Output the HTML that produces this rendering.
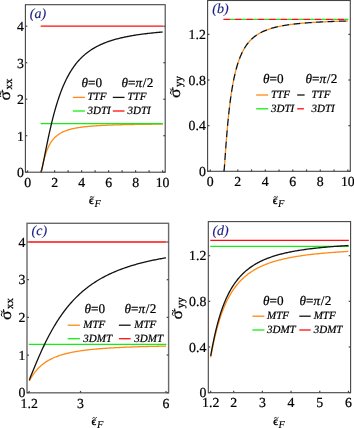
<!DOCTYPE html>
<html><head><meta charset="utf-8"><style>
html,body{margin:0;padding:0;background:#fff;}
svg{display:block;font-family:"Liberation Serif",serif;text-rendering:geometricPrecision;will-change:transform;}
text{stroke:#000;stroke-width:0.22px;}
text.nv{stroke:#1a1f80;stroke-width:0.15px;}
</style></head><body>
<svg width="354" height="428" viewBox="0 0 354 428">
<rect width="354" height="428" fill="#fff"/>
<path d="M41.10,172.20 L41.13,172.14 L41.18,171.97 L41.25,171.71 L41.33,171.36 L41.43,170.93 L41.55,170.43 L41.67,169.86 L41.81,169.22 L41.96,168.54 L42.11,167.80 L42.28,167.02 L42.46,166.21 L42.64,165.37 L42.84,164.50 L43.04,163.61 L43.25,162.71 L43.47,161.79 L43.70,160.87 L43.93,159.94 L44.18,159.02 L44.43,158.09 L44.68,157.18 L44.95,156.27 L45.22,155.36 L45.50,154.48 L45.78,153.60 L46.07,152.74 L46.37,151.89 L46.68,151.06 L46.99,150.25 L47.30,149.46 L47.63,148.68 L47.96,147.92 L48.29,147.19 L48.63,146.47 L48.98,145.77 L49.33,145.09 L49.69,144.43 L50.06,143.79 L50.43,143.17 L50.80,142.56 L51.18,141.98 L51.57,141.41 L51.96,140.86 L52.36,140.33 L52.76,139.82 L53.17,139.32 L53.59,138.84 L54.00,138.37 L54.43,137.92 L54.86,137.48 L55.29,137.06 L55.73,136.65 L56.17,136.26 L56.62,135.88 L57.08,135.51 L57.54,135.15 L58.00,134.81 L58.47,134.48 L58.94,134.16 L59.42,133.85 L59.90,133.55 L60.39,133.26 L60.88,132.98 L61.38,132.70 L61.88,132.44 L62.39,132.19 L62.90,131.95 L63.41,131.71 L63.93,131.48 L64.46,131.26 L64.99,131.05 L65.52,130.84 L66.06,130.64 L66.60,130.44 L67.14,130.26 L67.69,130.08 L68.25,129.90 L68.81,129.73 L69.37,129.57 L69.94,129.41 L70.51,129.25 L71.09,129.11 L71.67,128.96 L72.25,128.82 L72.84,128.69 L73.43,128.56 L74.03,128.43 L74.63,128.30 L75.23,128.19 L75.84,128.07 L76.46,127.96 L77.07,127.85 L77.69,127.74 L78.32,127.64 L78.95,127.54 L79.58,127.45 L80.22,127.35 L80.86,127.26 L81.50,127.17 L82.15,127.09 L82.80,127.00 L83.46,126.92 L84.12,126.85 L84.78,126.77 L85.45,126.70 L86.12,126.62 L86.80,126.55 L87.48,126.49 L88.16,126.42 L88.85,126.36 L89.54,126.29 L90.23,126.23 L90.93,126.18 L91.63,126.12 L92.33,126.06 L93.04,126.01 L93.75,125.96 L94.47,125.90 L95.19,125.85 L95.91,125.81 L96.64,125.76 L97.37,125.71 L98.10,125.67 L98.84,125.62 L99.58,125.58 L100.32,125.54 L101.07,125.50 L101.82,125.46 L102.58,125.42 L103.34,125.38 L104.10,125.35 L104.86,125.31 L105.63,125.28 L106.40,125.24 L107.18,125.21 L107.96,125.18 L108.74,125.15 L109.53,125.11 L110.32,125.08 L111.11,125.06 L111.91,125.03 L112.71,125.00 L113.51,124.97 L114.32,124.95 L115.12,124.92 L115.94,124.89 L116.75,124.87 L117.57,124.85 L118.40,124.82 L119.22,124.80 L120.05,124.78 L120.88,124.75 L121.72,124.73 L122.56,124.71 L123.40,124.69 L124.25,124.67 L125.10,124.65 L125.95,124.63 L126.80,124.61 L127.66,124.59 L128.52,124.58 L129.39,124.56 L130.26,124.54 L131.13,124.52 L132.00,124.51 L132.88,124.49 L133.76,124.48 L134.65,124.46 L135.53,124.45 L136.42,124.43 L137.32,124.42 L138.21,124.40 L139.11,124.39 L140.02,124.37 L140.92,124.36 L141.83,124.35 L142.74,124.34 L143.66,124.32 L144.58,124.31 L145.50,124.30 L146.42,124.29 L147.35,124.27 L148.28,124.26 L149.22,124.25 L150.15,124.24 L151.09,124.23 L152.03,124.22 L152.98,124.21 L153.93,124.20 L154.88,124.19 L155.83,124.18 L156.79,124.17 L157.75,124.16 L158.72,124.15 L159.68,124.14 L160.65,124.13 L161.62,124.13 L162.60,124.12" fill="none" stroke="#ff8a14" stroke-width="1.3"/>
<line x1="40.70" y1="123.53" x2="163.00" y2="123.53" stroke="#12ee12" stroke-width="1.3"/>
<path d="M41.10,172.20 L41.13,172.15 L41.18,172.00 L41.25,171.77 L41.33,171.47 L41.43,171.09 L41.55,170.64 L41.67,170.13 L41.81,169.54 L41.96,168.89 L42.11,168.19 L42.28,167.42 L42.46,166.59 L42.64,165.71 L42.84,164.77 L43.04,163.78 L43.25,162.74 L43.47,161.65 L43.70,160.52 L43.93,159.34 L44.18,158.13 L44.43,156.87 L44.68,155.57 L44.95,154.24 L45.22,152.87 L45.50,151.48 L45.78,150.05 L46.07,148.60 L46.37,147.12 L46.68,145.62 L46.99,144.10 L47.30,142.56 L47.63,141.00 L47.96,139.43 L48.29,137.84 L48.63,136.24 L48.98,134.64 L49.33,133.02 L49.69,131.41 L50.06,129.78 L50.43,128.16 L50.80,126.53 L51.18,124.91 L51.57,123.29 L51.96,121.67 L52.36,120.06 L52.76,118.45 L53.17,116.86 L53.59,115.27 L54.00,113.69 L54.43,112.13 L54.86,110.58 L55.29,109.04 L55.73,107.51 L56.17,106.00 L56.62,104.51 L57.08,103.03 L57.54,101.58 L58.00,100.13 L58.47,98.71 L58.94,97.31 L59.42,95.92 L59.90,94.56 L60.39,93.22 L60.88,91.89 L61.38,90.59 L61.88,89.31 L62.39,88.05 L62.90,86.81 L63.41,85.59 L63.93,84.39 L64.46,83.22 L64.99,82.06 L65.52,80.93 L66.06,79.81 L66.60,78.72 L67.14,77.65 L67.69,76.60 L68.25,75.57 L68.81,74.56 L69.37,73.57 L69.94,72.60 L70.51,71.65 L71.09,70.72 L71.67,69.81 L72.25,68.92 L72.84,68.05 L73.43,67.19 L74.03,66.36 L74.63,65.54 L75.23,64.74 L75.84,63.95 L76.46,63.18 L77.07,62.43 L77.69,61.70 L78.32,60.98 L78.95,60.28 L79.58,59.59 L80.22,58.92 L80.86,58.27 L81.50,57.62 L82.15,57.00 L82.80,56.38 L83.46,55.78 L84.12,55.20 L84.78,54.62 L85.45,54.06 L86.12,53.51 L86.80,52.98 L87.48,52.45 L88.16,51.94 L88.85,51.44 L89.54,50.95 L90.23,50.47 L90.93,50.01 L91.63,49.55 L92.33,49.10 L93.04,48.66 L93.75,48.24 L94.47,47.82 L95.19,47.41 L95.91,47.01 L96.64,46.62 L97.37,46.24 L98.10,45.87 L98.84,45.50 L99.58,45.14 L100.32,44.79 L101.07,44.45 L101.82,44.12 L102.58,43.79 L103.34,43.47 L104.10,43.16 L104.86,42.85 L105.63,42.56 L106.40,42.26 L107.18,41.98 L107.96,41.70 L108.74,41.42 L109.53,41.15 L110.32,40.89 L111.11,40.63 L111.91,40.38 L112.71,40.14 L113.51,39.90 L114.32,39.66 L115.12,39.43 L115.94,39.20 L116.75,38.98 L117.57,38.77 L118.40,38.55 L119.22,38.35 L120.05,38.14 L120.88,37.94 L121.72,37.75 L122.56,37.56 L123.40,37.37 L124.25,37.19 L125.10,37.01 L125.95,36.83 L126.80,36.66 L127.66,36.49 L128.52,36.32 L129.39,36.16 L130.26,36.00 L131.13,35.85 L132.00,35.69 L132.88,35.54 L133.76,35.40 L134.65,35.25 L135.53,35.11 L136.42,34.97 L137.32,34.84 L138.21,34.70 L139.11,34.57 L140.02,34.45 L140.92,34.32 L141.83,34.20 L142.74,34.08 L143.66,33.96 L144.58,33.84 L145.50,33.73 L146.42,33.61 L147.35,33.50 L148.28,33.40 L149.22,33.29 L150.15,33.19 L151.09,33.09 L152.03,32.99 L152.98,32.89 L153.93,32.79 L154.88,32.70 L155.83,32.60 L156.79,32.51 L157.75,32.42 L158.72,32.33 L159.68,32.25 L160.65,32.16 L161.62,32.08 L162.60,32.00" fill="none" stroke="#111" stroke-width="1.3"/>
<line x1="40.70" y1="26.20" x2="163.00" y2="26.20" stroke="#ff0d0d" stroke-width="1.3"/>
<rect x="25.4" y="4.7" width="139.79999999999998" height="167.5" fill="none" stroke="#444" stroke-width="1.1"/>
<line x1="27.60" y1="172.2" x2="27.60" y2="170.29999999999998" stroke="#444" stroke-width="1.2"/>
<text x="27.60" y="186.60" font-size="13.8" text-anchor="middle" fill="#000">0</text>
<line x1="54.60" y1="172.2" x2="54.60" y2="170.29999999999998" stroke="#444" stroke-width="1.2"/>
<text x="54.60" y="186.60" font-size="13.8" text-anchor="middle" fill="#000">2</text>
<line x1="81.60" y1="172.2" x2="81.60" y2="170.29999999999998" stroke="#444" stroke-width="1.2"/>
<text x="81.60" y="186.60" font-size="13.8" text-anchor="middle" fill="#000">4</text>
<line x1="108.60" y1="172.2" x2="108.60" y2="170.29999999999998" stroke="#444" stroke-width="1.2"/>
<text x="108.60" y="186.60" font-size="13.8" text-anchor="middle" fill="#000">6</text>
<line x1="135.60" y1="172.2" x2="135.60" y2="170.29999999999998" stroke="#444" stroke-width="1.2"/>
<text x="135.60" y="186.60" font-size="13.8" text-anchor="middle" fill="#000">8</text>
<line x1="162.60" y1="172.2" x2="162.60" y2="170.29999999999998" stroke="#444" stroke-width="1.2"/>
<text x="162.60" y="186.60" font-size="13.8" text-anchor="middle" fill="#000">10</text>
<line x1="41.10" y1="172.2" x2="41.10" y2="170.29999999999998" stroke="#444" stroke-width="1.2"/>
<line x1="68.10" y1="172.2" x2="68.10" y2="170.29999999999998" stroke="#444" stroke-width="1.2"/>
<line x1="95.10" y1="172.2" x2="95.10" y2="170.29999999999998" stroke="#444" stroke-width="1.2"/>
<line x1="122.10" y1="172.2" x2="122.10" y2="170.29999999999998" stroke="#444" stroke-width="1.2"/>
<line x1="149.10" y1="172.2" x2="149.10" y2="170.29999999999998" stroke="#444" stroke-width="1.2"/>
<line x1="25.4" y1="172.20" x2="27.299999999999997" y2="172.20" stroke="#444" stroke-width="1.2"/>
<line x1="165.2" y1="172.20" x2="163.29999999999998" y2="172.20" stroke="#444" stroke-width="1.2"/>
<text x="23.80" y="177.00" font-size="13.8" text-anchor="end" fill="#000">0</text>
<line x1="25.4" y1="135.70" x2="27.299999999999997" y2="135.70" stroke="#444" stroke-width="1.2"/>
<line x1="165.2" y1="135.70" x2="163.29999999999998" y2="135.70" stroke="#444" stroke-width="1.2"/>
<text x="23.80" y="140.50" font-size="13.8" text-anchor="end" fill="#000">1</text>
<line x1="25.4" y1="99.20" x2="27.299999999999997" y2="99.20" stroke="#444" stroke-width="1.2"/>
<line x1="165.2" y1="99.20" x2="163.29999999999998" y2="99.20" stroke="#444" stroke-width="1.2"/>
<text x="23.80" y="104.00" font-size="13.8" text-anchor="end" fill="#000">2</text>
<line x1="25.4" y1="62.70" x2="27.299999999999997" y2="62.70" stroke="#444" stroke-width="1.2"/>
<line x1="165.2" y1="62.70" x2="163.29999999999998" y2="62.70" stroke="#444" stroke-width="1.2"/>
<text x="23.80" y="67.50" font-size="13.8" text-anchor="end" fill="#000">3</text>
<line x1="25.4" y1="26.20" x2="27.299999999999997" y2="26.20" stroke="#444" stroke-width="1.2"/>
<line x1="165.2" y1="26.20" x2="163.29999999999998" y2="26.20" stroke="#444" stroke-width="1.2"/>
<text x="23.80" y="31.00" font-size="13.8" text-anchor="end" fill="#000">4</text>
<text x="29.80" y="17.90" font-size="14" text-anchor="start" font-style="italic" fill="#1a1f80" class="nv">(a)</text>
<text x="81.50" y="86.50" font-size="13.2"><tspan font-style="italic">θ</tspan>=0</text>
<text x="121.50" y="86.50" font-size="13.2"><tspan font-style="italic">θ</tspan>=<tspan font-style="italic">π</tspan><tspan dx="0.7">/</tspan><tspan dx="0.4">2</tspan></text>
<line x1="72.80" y1="97.40" x2="84.90" y2="97.40" stroke="#ff8a14" stroke-width="1.3"/>
<line x1="112.80" y1="97.40" x2="124.50" y2="97.40" stroke="#111" stroke-width="1.3"/>
<text x="87.50" y="100.20" font-size="11" text-anchor="start" font-style="italic" fill="#000">TTF</text>
<text x="127.50" y="100.20" font-size="11" text-anchor="start" font-style="italic" fill="#000">TTF</text>
<line x1="72.80" y1="111.00" x2="84.90" y2="111.00" stroke="#12ee12" stroke-width="1.3"/>
<line x1="112.80" y1="111.00" x2="124.50" y2="111.00" stroke="#ff0d0d" stroke-width="1.3"/>
<text x="87.50" y="113.80" font-size="11" text-anchor="start" font-style="italic" fill="#000">3DTI</text>
<text x="127.50" y="113.80" font-size="11" text-anchor="start" font-style="italic" fill="#000">3DTI</text>
<g transform="translate(9.80,100.60) rotate(-90)"><text x="0" y="0" font-size="16" transform="scale(1.1,1)">σ</text><line x1="8.3" y1="-7.5" x2="10.9" y2="-7.5" stroke="#000" stroke-width="1"/><path d="M3.6,-8.8 q1.45,-1.9 2.9,-0.6 t2.9,-0.6" fill="none" stroke="#000" stroke-width="0.95"/><text x="11.2" y="1.9" font-size="11">xx</text></g>
<g transform="translate(89.00,203.90)"><text x="0" y="0" font-size="11.5" style="stroke-width:0.4px">ϵ</text><path d="M0.9,-6.3 q1.1,-1.7 2.2,-0.6 t2.2,-0.6" fill="none" stroke="#000" stroke-width="0.85"/><text x="5.4" y="3.1" font-size="10.5" font-style="italic" style="stroke-width:0.08px">F</text></g>
<line x1="223.4" y1="19.4" x2="348.3" y2="19.4" stroke="#12ee12" stroke-width="1.3" stroke-dasharray="4.5 6.9" stroke-dashoffset="-6.9"/>
<line x1="223.4" y1="19.4" x2="348.3" y2="19.4" stroke="#ff0d0d" stroke-width="1.3" stroke-dasharray="6.9 4.5"/>
<path d="M224.05,171.30 L224.08,171.11 L224.13,170.59 L224.20,169.78 L224.29,168.69 L224.39,167.34 L224.51,165.76 L224.63,163.97 L224.77,161.99 L224.92,159.84 L225.08,157.55 L225.25,155.12 L225.43,152.58 L225.62,149.94 L225.82,147.22 L226.03,144.45 L226.24,141.62 L226.47,138.76 L226.70,135.88 L226.94,132.99 L227.18,130.09 L227.44,127.20 L227.70,124.33 L227.97,121.49 L228.24,118.67 L228.53,115.89 L228.82,113.15 L229.11,110.46 L229.42,107.81 L229.73,105.22 L230.04,102.68 L230.37,100.20 L230.70,97.77 L231.03,95.41 L231.37,93.10 L231.72,90.86 L232.08,88.68 L232.43,86.55 L232.80,84.49 L233.17,82.48 L233.55,80.54 L233.93,78.65 L234.32,76.83 L234.71,75.05 L235.11,73.34 L235.52,71.67 L235.93,70.07 L236.35,68.51 L236.77,67.00 L237.19,65.54 L237.62,64.13 L238.06,62.77 L238.50,61.45 L238.95,60.18 L239.40,58.95 L239.86,57.76 L240.32,56.60 L240.79,55.49 L241.26,54.42 L241.74,53.38 L242.22,52.37 L242.71,51.40 L243.20,50.47 L243.70,49.56 L244.20,48.68 L244.71,47.84 L245.22,47.02 L245.73,46.23 L246.25,45.46 L246.78,44.72 L247.31,44.01 L247.84,43.32 L248.38,42.65 L248.92,42.00 L249.47,41.38 L250.02,40.77 L250.58,40.19 L251.14,39.62 L251.70,39.07 L252.27,38.54 L252.85,38.03 L253.42,37.53 L254.01,37.05 L254.59,36.59 L255.18,36.13 L255.78,35.70 L256.38,35.27 L256.98,34.86 L257.59,34.47 L258.20,34.08 L258.82,33.71 L259.44,33.35 L260.06,33.00 L260.69,32.66 L261.32,32.33 L261.96,32.01 L262.60,31.70 L263.24,31.40 L263.89,31.10 L264.54,30.82 L265.20,30.54 L265.86,30.28 L266.53,30.02 L267.19,29.77 L267.87,29.52 L268.54,29.28 L269.22,29.05 L269.91,28.83 L270.59,28.61 L271.28,28.40 L271.98,28.19 L272.68,27.99 L273.38,27.80 L274.09,27.61 L274.80,27.43 L275.51,27.25 L276.23,27.07 L276.95,26.90 L277.68,26.74 L278.41,26.58 L279.14,26.42 L279.88,26.27 L280.62,26.12 L281.36,25.98 L282.11,25.84 L282.86,25.70 L283.61,25.57 L284.37,25.44 L285.13,25.31 L285.90,25.19 L286.67,25.07 L287.44,24.95 L288.22,24.83 L288.99,24.72 L289.78,24.61 L290.56,24.51 L291.35,24.41 L292.15,24.30 L292.94,24.21 L293.75,24.11 L294.55,24.02 L295.36,23.92 L296.17,23.84 L296.98,23.75 L297.80,23.66 L298.62,23.58 L299.45,23.50 L300.27,23.42 L301.10,23.34 L301.94,23.27 L302.78,23.19 L303.62,23.12 L304.46,23.05 L305.31,22.98 L306.16,22.91 L307.02,22.85 L307.88,22.78 L308.74,22.72 L309.60,22.66 L310.47,22.60 L311.34,22.54 L312.22,22.48 L313.09,22.43 L313.98,22.37 L314.86,22.32 L315.75,22.27 L316.64,22.21 L317.53,22.16 L318.43,22.11 L319.33,22.07 L320.23,22.02 L321.14,21.97 L322.05,21.93 L322.96,21.88 L323.88,21.84 L324.80,21.80 L325.72,21.75 L326.65,21.71 L327.58,21.67 L328.51,21.63 L329.44,21.59 L330.38,21.56 L331.32,21.52 L332.27,21.48 L333.22,21.45 L334.17,21.41 L335.12,21.38 L336.08,21.35 L337.04,21.31 L338.00,21.28 L338.97,21.25 L339.94,21.22 L340.91,21.19 L341.88,21.16 L342.86,21.13 L343.84,21.10 L344.83,21.07 L345.82,21.04 L346.81,21.02 L347.80,20.99" fill="none" stroke="#ff8a14" stroke-width="1.3" stroke-dasharray="4.4 7" stroke-dashoffset="-7"/>
<path d="M224.05,171.30 L224.08,171.11 L224.13,170.59 L224.20,169.78 L224.29,168.69 L224.39,167.34 L224.51,165.76 L224.63,163.97 L224.77,161.99 L224.92,159.84 L225.08,157.55 L225.25,155.12 L225.43,152.58 L225.62,149.94 L225.82,147.22 L226.03,144.45 L226.24,141.62 L226.47,138.76 L226.70,135.88 L226.94,132.99 L227.18,130.09 L227.44,127.20 L227.70,124.33 L227.97,121.49 L228.24,118.67 L228.53,115.89 L228.82,113.15 L229.11,110.46 L229.42,107.81 L229.73,105.22 L230.04,102.68 L230.37,100.20 L230.70,97.77 L231.03,95.41 L231.37,93.10 L231.72,90.86 L232.08,88.68 L232.43,86.55 L232.80,84.49 L233.17,82.48 L233.55,80.54 L233.93,78.65 L234.32,76.83 L234.71,75.05 L235.11,73.34 L235.52,71.67 L235.93,70.07 L236.35,68.51 L236.77,67.00 L237.19,65.54 L237.62,64.13 L238.06,62.77 L238.50,61.45 L238.95,60.18 L239.40,58.95 L239.86,57.76 L240.32,56.60 L240.79,55.49 L241.26,54.42 L241.74,53.38 L242.22,52.37 L242.71,51.40 L243.20,50.47 L243.70,49.56 L244.20,48.68 L244.71,47.84 L245.22,47.02 L245.73,46.23 L246.25,45.46 L246.78,44.72 L247.31,44.01 L247.84,43.32 L248.38,42.65 L248.92,42.00 L249.47,41.38 L250.02,40.77 L250.58,40.19 L251.14,39.62 L251.70,39.07 L252.27,38.54 L252.85,38.03 L253.42,37.53 L254.01,37.05 L254.59,36.59 L255.18,36.13 L255.78,35.70 L256.38,35.27 L256.98,34.86 L257.59,34.47 L258.20,34.08 L258.82,33.71 L259.44,33.35 L260.06,33.00 L260.69,32.66 L261.32,32.33 L261.96,32.01 L262.60,31.70 L263.24,31.40 L263.89,31.10 L264.54,30.82 L265.20,30.54 L265.86,30.28 L266.53,30.02 L267.19,29.77 L267.87,29.52 L268.54,29.28 L269.22,29.05 L269.91,28.83 L270.59,28.61 L271.28,28.40 L271.98,28.19 L272.68,27.99 L273.38,27.80 L274.09,27.61 L274.80,27.43 L275.51,27.25 L276.23,27.07 L276.95,26.90 L277.68,26.74 L278.41,26.58 L279.14,26.42 L279.88,26.27 L280.62,26.12 L281.36,25.98 L282.11,25.84 L282.86,25.70 L283.61,25.57 L284.37,25.44 L285.13,25.31 L285.90,25.19 L286.67,25.07 L287.44,24.95 L288.22,24.83 L288.99,24.72 L289.78,24.61 L290.56,24.51 L291.35,24.41 L292.15,24.30 L292.94,24.21 L293.75,24.11 L294.55,24.02 L295.36,23.92 L296.17,23.84 L296.98,23.75 L297.80,23.66 L298.62,23.58 L299.45,23.50 L300.27,23.42 L301.10,23.34 L301.94,23.27 L302.78,23.19 L303.62,23.12 L304.46,23.05 L305.31,22.98 L306.16,22.91 L307.02,22.85 L307.88,22.78 L308.74,22.72 L309.60,22.66 L310.47,22.60 L311.34,22.54 L312.22,22.48 L313.09,22.43 L313.98,22.37 L314.86,22.32 L315.75,22.27 L316.64,22.21 L317.53,22.16 L318.43,22.11 L319.33,22.07 L320.23,22.02 L321.14,21.97 L322.05,21.93 L322.96,21.88 L323.88,21.84 L324.80,21.80 L325.72,21.75 L326.65,21.71 L327.58,21.67 L328.51,21.63 L329.44,21.59 L330.38,21.56 L331.32,21.52 L332.27,21.48 L333.22,21.45 L334.17,21.41 L335.12,21.38 L336.08,21.35 L337.04,21.31 L338.00,21.28 L338.97,21.25 L339.94,21.22 L340.91,21.19 L341.88,21.16 L342.86,21.13 L343.84,21.10 L344.83,21.07 L345.82,21.04 L346.81,21.02 L347.80,20.99" fill="none" stroke="#111" stroke-width="1.3" stroke-dasharray="7 4.4"/>
<rect x="207.6" y="0.5" width="142.70000000000002" height="170.8" fill="none" stroke="#444" stroke-width="1.1"/>
<line x1="210.30" y1="171.3" x2="210.30" y2="169.4" stroke="#444" stroke-width="1.2"/>
<text x="210.30" y="185.80" font-size="13.8" text-anchor="middle" fill="#000">0</text>
<line x1="237.80" y1="171.3" x2="237.80" y2="169.4" stroke="#444" stroke-width="1.2"/>
<text x="237.80" y="185.80" font-size="13.8" text-anchor="middle" fill="#000">2</text>
<line x1="265.30" y1="171.3" x2="265.30" y2="169.4" stroke="#444" stroke-width="1.2"/>
<text x="265.30" y="185.80" font-size="13.8" text-anchor="middle" fill="#000">4</text>
<line x1="292.80" y1="171.3" x2="292.80" y2="169.4" stroke="#444" stroke-width="1.2"/>
<text x="292.80" y="185.80" font-size="13.8" text-anchor="middle" fill="#000">6</text>
<line x1="320.30" y1="171.3" x2="320.30" y2="169.4" stroke="#444" stroke-width="1.2"/>
<text x="320.30" y="185.80" font-size="13.8" text-anchor="middle" fill="#000">8</text>
<line x1="347.80" y1="171.3" x2="347.80" y2="169.4" stroke="#444" stroke-width="1.2"/>
<text x="347.80" y="185.80" font-size="13.8" text-anchor="middle" fill="#000">10</text>
<line x1="224.05" y1="171.3" x2="224.05" y2="169.4" stroke="#444" stroke-width="1.2"/>
<line x1="251.55" y1="171.3" x2="251.55" y2="169.4" stroke="#444" stroke-width="1.2"/>
<line x1="279.05" y1="171.3" x2="279.05" y2="169.4" stroke="#444" stroke-width="1.2"/>
<line x1="306.55" y1="171.3" x2="306.55" y2="169.4" stroke="#444" stroke-width="1.2"/>
<line x1="334.05" y1="171.3" x2="334.05" y2="169.4" stroke="#444" stroke-width="1.2"/>
<line x1="207.6" y1="171.30" x2="209.5" y2="171.30" stroke="#444" stroke-width="1.2"/>
<line x1="350.3" y1="171.30" x2="348.40000000000003" y2="171.30" stroke="#444" stroke-width="1.2"/>
<text x="205.80" y="176.10" font-size="13.8" text-anchor="end" fill="#000">0</text>
<line x1="207.6" y1="125.66" x2="209.5" y2="125.66" stroke="#444" stroke-width="1.2"/>
<line x1="350.3" y1="125.66" x2="348.40000000000003" y2="125.66" stroke="#444" stroke-width="1.2"/>
<text x="205.80" y="130.46" font-size="13.8" text-anchor="end" fill="#000">0.4</text>
<line x1="207.6" y1="80.02" x2="209.5" y2="80.02" stroke="#444" stroke-width="1.2"/>
<line x1="350.3" y1="80.02" x2="348.40000000000003" y2="80.02" stroke="#444" stroke-width="1.2"/>
<text x="205.80" y="84.82" font-size="13.8" text-anchor="end" fill="#000">0.8</text>
<line x1="207.6" y1="34.38" x2="209.5" y2="34.38" stroke="#444" stroke-width="1.2"/>
<line x1="350.3" y1="34.38" x2="348.40000000000003" y2="34.38" stroke="#444" stroke-width="1.2"/>
<text x="205.80" y="39.18" font-size="13.8" text-anchor="end" fill="#000">1.2</text>
<text x="212.30" y="13.30" font-size="14" text-anchor="start" font-style="italic" fill="#1a1f80" class="nv">(b)</text>
<text x="263" y="83.4" font-size="13.2"><tspan font-style="italic">θ</tspan>=0</text>
<text x="305.5" y="83.4" font-size="13.2"><tspan font-style="italic">θ</tspan>=<tspan font-style="italic">π</tspan><tspan dx="0.7">/</tspan><tspan dx="0.4">2</tspan></text>
<line x1="256.20" y1="95.00" x2="268.20" y2="95.00" stroke="#ff8a14" stroke-width="1.3"/>
<line x1="256.20" y1="108.80" x2="268.20" y2="108.80" stroke="#12ee12" stroke-width="1.3"/>
<line x1="297.20" y1="95.00" x2="304.60" y2="95.00" stroke="#111" stroke-width="1.3"/>
<line x1="297.20" y1="108.80" x2="303.90" y2="108.80" stroke="#ff0d0d" stroke-width="1.3"/>
<text x="271.00" y="97.80" font-size="11" text-anchor="start" font-style="italic" fill="#000">TTF</text>
<text x="311.50" y="97.80" font-size="11" text-anchor="start" font-style="italic" fill="#000">TTF</text>
<text x="271.00" y="111.60" font-size="11" text-anchor="start" font-style="italic" fill="#000">3DTI</text>
<text x="311.50" y="111.60" font-size="11" text-anchor="start" font-style="italic" fill="#000">3DTI</text>
<g transform="translate(180.30,98.10) rotate(-90)"><text x="0" y="0" font-size="16" transform="scale(1.1,1)">σ</text><line x1="8.3" y1="-7.5" x2="10.9" y2="-7.5" stroke="#000" stroke-width="1"/><path d="M3.6,-8.8 q1.45,-1.9 2.9,-0.6 t2.9,-0.6" fill="none" stroke="#000" stroke-width="0.95"/><text x="11.2" y="1.9" font-size="11">yy</text></g>
<g transform="translate(272.70,203.90)"><text x="0" y="0" font-size="11.5" style="stroke-width:0.4px">ϵ</text><path d="M0.9,-6.3 q1.1,-1.7 2.2,-0.6 t2.2,-0.6" fill="none" stroke="#000" stroke-width="0.85"/><text x="5.4" y="3.1" font-size="10.5" font-style="italic" style="stroke-width:0.08px">F</text></g>
<path d="M29.20,381.08 L29.23,381.02 L29.29,380.92 L29.37,380.77 L29.46,380.59 L29.58,380.39 L29.70,380.16 L29.85,379.90 L30.00,379.63 L30.17,379.34 L30.34,379.03 L30.53,378.71 L30.73,378.37 L30.94,378.02 L31.16,377.66 L31.39,377.29 L31.62,376.91 L31.87,376.52 L32.13,376.12 L32.39,375.72 L32.66,375.31 L32.95,374.90 L33.23,374.48 L33.53,374.06 L33.84,373.64 L34.15,373.21 L34.47,372.78 L34.80,372.36 L35.13,371.93 L35.48,371.50 L35.83,371.07 L36.18,370.64 L36.55,370.22 L36.92,369.80 L37.30,369.38 L37.68,368.96 L38.07,368.54 L38.47,368.13 L38.87,367.72 L39.28,367.32 L39.70,366.92 L40.12,366.52 L40.55,366.13 L40.99,365.74 L41.43,365.36 L41.88,364.98 L42.33,364.61 L42.79,364.24 L43.26,363.88 L43.73,363.52 L44.21,363.17 L44.69,362.83 L45.18,362.49 L45.67,362.15 L46.17,361.82 L46.68,361.49 L47.19,361.18 L47.71,360.86 L48.23,360.55 L48.76,360.25 L49.29,359.95 L49.83,359.66 L50.37,359.37 L50.92,359.09 L51.47,358.81 L52.03,358.54 L52.60,358.28 L53.17,358.01 L53.74,357.76 L54.32,357.51 L54.91,357.26 L55.50,357.02 L56.09,356.78 L56.69,356.55 L57.30,356.32 L57.91,356.10 L58.52,355.88 L59.14,355.67 L59.77,355.46 L60.40,355.25 L61.03,355.05 L61.67,354.85 L62.31,354.66 L62.96,354.47 L63.62,354.28 L64.27,354.10 L64.94,353.92 L65.60,353.75 L66.28,353.58 L66.95,353.41 L67.63,353.25 L68.32,353.09 L69.01,352.93 L69.70,352.78 L70.40,352.63 L71.11,352.48 L71.81,352.33 L72.53,352.19 L73.24,352.05 L73.96,351.92 L74.69,351.78 L75.42,351.65 L76.15,351.53 L76.89,351.40 L77.64,351.28 L78.38,351.16 L79.14,351.04 L79.89,350.93 L80.65,350.82 L81.42,350.71 L82.18,350.60 L82.96,350.49 L83.73,350.39 L84.52,350.29 L85.30,350.19 L86.09,350.09 L86.88,349.99 L87.68,349.90 L88.48,349.81 L89.29,349.72 L90.10,349.63 L90.91,349.55 L91.73,349.46 L92.55,349.38 L93.38,349.30 L94.21,349.22 L95.04,349.14 L95.88,349.06 L96.72,348.99 L97.57,348.91 L98.42,348.84 L99.27,348.77 L100.13,348.70 L100.99,348.63 L101.86,348.57 L102.73,348.50 L103.60,348.44 L104.48,348.38 L105.36,348.31 L106.25,348.25 L107.13,348.20 L108.03,348.14 L108.92,348.08 L109.82,348.02 L110.73,347.97 L111.63,347.92 L112.55,347.86 L113.46,347.81 L114.38,347.76 L115.30,347.71 L116.23,347.66 L117.16,347.61 L118.09,347.57 L119.03,347.52 L119.97,347.48 L120.92,347.43 L121.87,347.39 L122.82,347.34 L123.77,347.30 L124.73,347.26 L125.70,347.22 L126.66,347.18 L127.63,347.14 L128.61,347.10 L129.59,347.07 L130.57,347.03 L131.55,346.99 L132.54,346.96 L133.53,346.92 L134.53,346.89 L135.53,346.85 L136.53,346.82 L137.53,346.79 L138.54,346.75 L139.56,346.72 L140.57,346.69 L141.59,346.66 L142.62,346.63 L143.64,346.60 L144.67,346.57 L145.71,346.54 L146.75,346.52 L147.79,346.49 L148.83,346.46 L149.88,346.43 L150.93,346.41 L151.98,346.38 L153.04,346.36 L154.10,346.33 L155.17,346.31 L156.24,346.28 L157.31,346.26 L158.38,346.24 L159.46,346.21 L160.54,346.19 L161.63,346.17 L162.72,346.15 L163.81,346.13 L164.90,346.11 L166.00,346.09" fill="none" stroke="#ff8a14" stroke-width="1.3"/>
<line x1="28.80" y1="344.41" x2="166.40" y2="344.41" stroke="#12ee12" stroke-width="1.3"/>
<path d="M29.20,380.13 L29.23,380.06 L29.29,379.91 L29.37,379.72 L29.46,379.48 L29.58,379.20 L29.70,378.89 L29.85,378.54 L30.00,378.16 L30.17,377.75 L30.34,377.32 L30.53,376.85 L30.73,376.36 L30.94,375.85 L31.16,375.31 L31.39,374.75 L31.62,374.16 L31.87,373.55 L32.13,372.92 L32.39,372.27 L32.66,371.60 L32.95,370.91 L33.23,370.21 L33.53,369.48 L33.84,368.73 L34.15,367.97 L34.47,367.20 L34.80,366.40 L35.13,365.59 L35.48,364.77 L35.83,363.93 L36.18,363.08 L36.55,362.22 L36.92,361.34 L37.30,360.46 L37.68,359.56 L38.07,358.65 L38.47,357.73 L38.87,356.80 L39.28,355.86 L39.70,354.91 L40.12,353.96 L40.55,353.00 L40.99,352.03 L41.43,351.05 L41.88,350.07 L42.33,349.09 L42.79,348.10 L43.26,347.10 L43.73,346.10 L44.21,345.10 L44.69,344.10 L45.18,343.09 L45.67,342.08 L46.17,341.07 L46.68,340.06 L47.19,339.05 L47.71,338.04 L48.23,337.03 L48.76,336.02 L49.29,335.01 L49.83,334.00 L50.37,333.00 L50.92,331.99 L51.47,330.99 L52.03,330.00 L52.60,329.00 L53.17,328.01 L53.74,327.03 L54.32,326.04 L54.91,325.07 L55.50,324.09 L56.09,323.13 L56.69,322.17 L57.30,321.21 L57.91,320.26 L58.52,319.31 L59.14,318.38 L59.77,317.44 L60.40,316.52 L61.03,315.60 L61.67,314.69 L62.31,313.79 L62.96,312.89 L63.62,312.00 L64.27,311.12 L64.94,310.25 L65.60,309.38 L66.28,308.52 L66.95,307.67 L67.63,306.83 L68.32,306.00 L69.01,305.17 L69.70,304.35 L70.40,303.55 L71.11,302.75 L71.81,301.95 L72.53,301.17 L73.24,300.40 L73.96,299.63 L74.69,298.87 L75.42,298.12 L76.15,297.38 L76.89,296.65 L77.64,295.93 L78.38,295.21 L79.14,294.51 L79.89,293.81 L80.65,293.12 L81.42,292.44 L82.18,291.77 L82.96,291.10 L83.73,290.45 L84.52,289.80 L85.30,289.16 L86.09,288.53 L86.88,287.91 L87.68,287.30 L88.48,286.69 L89.29,286.09 L90.10,285.50 L90.91,284.92 L91.73,284.34 L92.55,283.78 L93.38,283.22 L94.21,282.67 L95.04,282.12 L95.88,281.59 L96.72,281.06 L97.57,280.54 L98.42,280.02 L99.27,279.52 L100.13,279.02 L100.99,278.52 L101.86,278.04 L102.73,277.56 L103.60,277.09 L104.48,276.62 L105.36,276.16 L106.25,275.71 L107.13,275.26 L108.03,274.82 L108.92,274.39 L109.82,273.96 L110.73,273.54 L111.63,273.13 L112.55,272.72 L113.46,272.32 L114.38,271.92 L115.30,271.53 L116.23,271.14 L117.16,270.76 L118.09,270.39 L119.03,270.02 L119.97,269.66 L120.92,269.30 L121.87,268.95 L122.82,268.60 L123.77,268.25 L124.73,267.92 L125.70,267.58 L126.66,267.26 L127.63,266.93 L128.61,266.62 L129.59,266.30 L130.57,265.99 L131.55,265.69 L132.54,265.39 L133.53,265.09 L134.53,264.80 L135.53,264.51 L136.53,264.23 L137.53,263.95 L138.54,263.68 L139.56,263.41 L140.57,263.14 L141.59,262.88 L142.62,262.62 L143.64,262.36 L144.67,262.11 L145.71,261.86 L146.75,261.62 L147.79,261.38 L148.83,261.14 L149.88,260.91 L150.93,260.68 L151.98,260.45 L153.04,260.23 L154.10,260.01 L155.17,259.79 L156.24,259.58 L157.31,259.36 L158.38,259.16 L159.46,258.95 L160.54,258.75 L161.63,258.55 L162.72,258.35 L163.81,258.16 L164.90,257.97 L166.00,257.78" fill="none" stroke="#111" stroke-width="1.3"/>
<line x1="28.80" y1="242.02" x2="166.40" y2="242.02" stroke="#ff0d0d" stroke-width="1.3"/>
<rect x="27.0" y="223.3" width="141.6" height="169.5" fill="none" stroke="#6a6a6a" stroke-width="1.4"/>
<line x1="29.20" y1="392.8" x2="29.20" y2="390.90000000000003" stroke="#444" stroke-width="1.2"/>
<text x="29.20" y="407.80" font-size="13.8" text-anchor="middle" fill="#000">1.2</text>
<line x1="80.50" y1="392.8" x2="80.50" y2="390.90000000000003" stroke="#444" stroke-width="1.2"/>
<text x="80.50" y="407.80" font-size="13.8" text-anchor="middle" fill="#000">3</text>
<line x1="166.00" y1="392.8" x2="166.00" y2="390.90000000000003" stroke="#444" stroke-width="1.2"/>
<text x="166.00" y="407.80" font-size="13.8" text-anchor="middle" fill="#000">6</text>
<line x1="27.0" y1="392.70" x2="28.9" y2="392.70" stroke="#444" stroke-width="1.2"/>
<line x1="168.6" y1="392.70" x2="166.7" y2="392.70" stroke="#444" stroke-width="1.2"/>
<text x="25.40" y="397.20" font-size="13.8" text-anchor="end" fill="#000">0</text>
<line x1="27.0" y1="355.03" x2="28.9" y2="355.03" stroke="#444" stroke-width="1.2"/>
<line x1="168.6" y1="355.03" x2="166.7" y2="355.03" stroke="#444" stroke-width="1.2"/>
<text x="25.40" y="359.53" font-size="13.8" text-anchor="end" fill="#000">1</text>
<line x1="27.0" y1="317.36" x2="28.9" y2="317.36" stroke="#444" stroke-width="1.2"/>
<line x1="168.6" y1="317.36" x2="166.7" y2="317.36" stroke="#444" stroke-width="1.2"/>
<text x="25.40" y="321.86" font-size="13.8" text-anchor="end" fill="#000">2</text>
<line x1="27.0" y1="279.69" x2="28.9" y2="279.69" stroke="#444" stroke-width="1.2"/>
<line x1="168.6" y1="279.69" x2="166.7" y2="279.69" stroke="#444" stroke-width="1.2"/>
<text x="25.40" y="284.19" font-size="13.8" text-anchor="end" fill="#000">3</text>
<line x1="27.0" y1="242.02" x2="28.9" y2="242.02" stroke="#444" stroke-width="1.2"/>
<line x1="168.6" y1="242.02" x2="166.7" y2="242.02" stroke="#444" stroke-width="1.2"/>
<text x="25.40" y="246.52" font-size="13.8" text-anchor="end" fill="#000">4</text>
<text x="31.50" y="235.20" font-size="14" text-anchor="start" font-style="italic" fill="#1a1f80" class="nv">(c)</text>
<text x="84.5" y="313.3" font-size="13.2"><tspan font-style="italic">θ</tspan>=0</text>
<text x="124.5" y="313.3" font-size="13.2"><tspan font-style="italic">θ</tspan>=<tspan font-style="italic">π</tspan><tspan dx="0.7">/</tspan><tspan dx="0.4">2</tspan></text>
<line x1="67.70" y1="325.20" x2="79.90" y2="325.20" stroke="#ff8a14" stroke-width="1.3"/>
<line x1="67.70" y1="338.70" x2="79.90" y2="338.70" stroke="#12ee12" stroke-width="1.3"/>
<line x1="118.90" y1="325.20" x2="130.60" y2="325.20" stroke="#111" stroke-width="1.3"/>
<line x1="118.90" y1="338.70" x2="130.60" y2="338.70" stroke="#ff0d0d" stroke-width="1.3"/>
<text x="83.30" y="328.00" font-size="11" text-anchor="start" font-style="italic" fill="#000">MTF</text>
<text x="134.30" y="328.00" font-size="11" text-anchor="start" font-style="italic" fill="#000">MTF</text>
<text x="83.30" y="341.50" font-size="11" text-anchor="start" font-style="italic" fill="#000">3DMT</text>
<text x="134.30" y="341.50" font-size="11" text-anchor="start" font-style="italic" fill="#000">3DMT</text>
<g transform="translate(11.10,320.10) rotate(-90)"><text x="0" y="0" font-size="16" transform="scale(1.1,1)">σ</text><line x1="8.3" y1="-7.5" x2="10.9" y2="-7.5" stroke="#000" stroke-width="1"/><path d="M3.6,-8.8 q1.45,-1.9 2.9,-0.6 t2.9,-0.6" fill="none" stroke="#000" stroke-width="0.95"/><text x="11.2" y="1.9" font-size="11">xx</text></g>
<g transform="translate(91.50,424.80)"><text x="0" y="0" font-size="11.5" style="stroke-width:0.4px">ϵ</text><path d="M0.9,-6.3 q1.1,-1.7 2.2,-0.6 t2.2,-0.6" fill="none" stroke="#000" stroke-width="0.85"/><text x="5.4" y="3.1" font-size="10.5" font-style="italic" style="stroke-width:0.08px">F</text></g>
<path d="M210.70,357.40 L210.73,357.23 L210.79,356.91 L210.87,356.47 L210.97,355.93 L211.08,355.30 L211.21,354.61 L211.35,353.84 L211.51,353.01 L211.67,352.13 L211.85,351.20 L212.04,350.22 L212.24,349.20 L212.45,348.15 L212.67,347.05 L212.90,345.93 L213.14,344.77 L213.39,343.60 L213.65,342.39 L213.91,341.17 L214.19,339.94 L214.47,338.68 L214.76,337.42 L215.06,336.14 L215.37,334.86 L215.68,333.57 L216.01,332.27 L216.34,330.98 L216.68,329.68 L217.02,328.38 L217.37,327.09 L217.73,325.79 L218.10,324.51 L218.47,323.23 L218.85,321.95 L219.24,320.69 L219.63,319.43 L220.03,318.18 L220.44,316.95 L220.85,315.72 L221.27,314.51 L221.70,313.31 L222.13,312.12 L222.57,310.95 L223.02,309.79 L223.47,308.65 L223.92,307.52 L224.39,306.41 L224.86,305.31 L225.33,304.23 L225.81,303.16 L226.30,302.11 L226.79,301.08 L227.29,300.06 L227.79,299.06 L228.30,298.08 L228.82,297.11 L229.34,296.16 L229.86,295.23 L230.39,294.31 L230.93,293.41 L231.47,292.52 L232.02,291.65 L232.57,290.80 L233.13,289.96 L233.69,289.14 L234.26,288.33 L234.84,287.54 L235.42,286.76 L236.00,286.00 L236.59,285.26 L237.18,284.53 L237.78,283.81 L238.39,283.10 L239.00,282.41 L239.61,281.74 L240.23,281.08 L240.85,280.43 L241.48,279.79 L242.12,279.17 L242.76,278.56 L243.40,277.96 L244.05,277.38 L244.70,276.80 L245.36,276.24 L246.02,275.69 L246.69,275.15 L247.36,274.62 L248.04,274.10 L248.72,273.60 L249.40,273.10 L250.09,272.62 L250.79,272.14 L251.49,271.67 L252.19,271.22 L252.90,270.77 L253.61,270.33 L254.33,269.90 L255.05,269.48 L255.78,269.07 L256.51,268.67 L257.24,268.28 L257.98,267.89 L258.73,267.51 L259.48,267.14 L260.23,266.78 L260.99,266.42 L261.75,266.08 L262.51,265.73 L263.28,265.40 L264.06,265.07 L264.83,264.75 L265.62,264.44 L266.40,264.13 L267.19,263.83 L267.99,263.54 L268.79,263.25 L269.59,262.96 L270.40,262.69 L271.21,262.41 L272.03,262.15 L272.85,261.89 L273.67,261.63 L274.50,261.38 L275.33,261.13 L276.17,260.89 L277.01,260.66 L277.85,260.43 L278.70,260.20 L279.55,259.98 L280.41,259.76 L281.27,259.54 L282.13,259.33 L283.00,259.13 L283.87,258.93 L284.74,258.73 L285.62,258.54 L286.51,258.35 L287.39,258.16 L288.29,257.98 L289.18,257.80 L290.08,257.62 L290.98,257.45 L291.89,257.28 L292.80,257.12 L293.71,256.95 L294.63,256.79 L295.55,256.64 L296.48,256.48 L297.41,256.33 L298.34,256.18 L299.28,256.04 L300.22,255.90 L301.16,255.76 L302.11,255.62 L303.06,255.48 L304.02,255.35 L304.98,255.22 L305.94,255.09 L306.90,254.97 L307.87,254.85 L308.85,254.72 L309.82,254.61 L310.81,254.49 L311.79,254.38 L312.78,254.26 L313.77,254.15 L314.76,254.04 L315.76,253.94 L316.77,253.83 L317.77,253.73 L318.78,253.63 L319.79,253.53 L320.81,253.43 L321.83,253.34 L322.86,253.24 L323.88,253.15 L324.91,253.06 L325.95,252.97 L326.98,252.88 L328.03,252.80 L329.07,252.71 L330.12,252.63 L331.17,252.55 L332.23,252.47 L333.28,252.39 L334.35,252.31 L335.41,252.23 L336.48,252.16 L337.55,252.08 L338.63,252.01 L339.71,251.94 L340.79,251.87 L341.87,251.80 L342.96,251.73 L344.06,251.66 L345.15,251.60 L346.25,251.53 L347.35,251.47 L348.46,251.41" fill="none" stroke="#ff8a14" stroke-width="1.3"/>
<line x1="210.30" y1="246.32" x2="348.86" y2="246.32" stroke="#12ee12" stroke-width="1.3"/>
<path d="M210.70,355.93 L210.73,355.76 L210.79,355.42 L210.87,354.96 L210.97,354.40 L211.08,353.75 L211.21,353.02 L211.35,352.23 L211.51,351.37 L211.67,350.45 L211.85,349.48 L212.04,348.46 L212.24,347.40 L212.45,346.29 L212.67,345.15 L212.90,343.98 L213.14,342.78 L213.39,341.55 L213.65,340.30 L213.91,339.03 L214.19,337.74 L214.47,336.44 L214.76,335.12 L215.06,333.79 L215.37,332.45 L215.68,331.11 L216.01,329.76 L216.34,328.41 L216.68,327.06 L217.02,325.71 L217.37,324.36 L217.73,323.01 L218.10,321.67 L218.47,320.34 L218.85,319.01 L219.24,317.69 L219.63,316.38 L220.03,315.08 L220.44,313.79 L220.85,312.52 L221.27,311.26 L221.70,310.01 L222.13,308.77 L222.57,307.55 L223.02,306.34 L223.47,305.15 L223.92,303.98 L224.39,302.82 L224.86,301.67 L225.33,300.55 L225.81,299.44 L226.30,298.34 L226.79,297.27 L227.29,296.21 L227.79,295.17 L228.30,294.14 L228.82,293.13 L229.34,292.14 L229.86,291.17 L230.39,290.21 L230.93,289.27 L231.47,288.35 L232.02,287.45 L232.57,286.56 L233.13,285.68 L233.69,284.83 L234.26,283.99 L234.84,283.16 L235.42,282.36 L236.00,281.56 L236.59,280.78 L237.18,280.02 L237.78,279.27 L238.39,278.54 L239.00,277.82 L239.61,277.12 L240.23,276.43 L240.85,275.75 L241.48,275.09 L242.12,274.44 L242.76,273.81 L243.40,273.18 L244.05,272.57 L244.70,271.98 L245.36,271.39 L246.02,270.82 L246.69,270.26 L247.36,269.71 L248.04,269.17 L248.72,268.64 L249.40,268.12 L250.09,267.62 L250.79,267.12 L251.49,266.64 L252.19,266.16 L252.90,265.69 L253.61,265.24 L254.33,264.79 L255.05,264.35 L255.78,263.93 L256.51,263.51 L257.24,263.10 L257.98,262.69 L258.73,262.30 L259.48,261.91 L260.23,261.54 L260.99,261.17 L261.75,260.80 L262.51,260.45 L263.28,260.10 L264.06,259.76 L264.83,259.43 L265.62,259.10 L266.40,258.78 L267.19,258.47 L267.99,258.16 L268.79,257.86 L269.59,257.56 L270.40,257.27 L271.21,256.99 L272.03,256.71 L272.85,256.44 L273.67,256.17 L274.50,255.91 L275.33,255.66 L276.17,255.41 L277.01,255.16 L277.85,254.92 L278.70,254.68 L279.55,254.45 L280.41,254.22 L281.27,254.00 L282.13,253.78 L283.00,253.57 L283.87,253.36 L284.74,253.15 L285.62,252.95 L286.51,252.75 L287.39,252.56 L288.29,252.37 L289.18,252.18 L290.08,252.00 L290.98,251.82 L291.89,251.64 L292.80,251.47 L293.71,251.30 L294.63,251.13 L295.55,250.97 L296.48,250.81 L297.41,250.65 L298.34,250.50 L299.28,250.35 L300.22,250.20 L301.16,250.05 L302.11,249.91 L303.06,249.77 L304.02,249.63 L304.98,249.50 L305.94,249.36 L306.90,249.23 L307.87,249.11 L308.85,248.98 L309.82,248.86 L310.81,248.74 L311.79,248.62 L312.78,248.50 L313.77,248.38 L314.76,248.27 L315.76,248.16 L316.77,248.05 L317.77,247.94 L318.78,247.84 L319.79,247.74 L320.81,247.63 L321.83,247.53 L322.86,247.44 L323.88,247.34 L324.91,247.25 L325.95,247.15 L326.98,247.06 L328.03,246.97 L329.07,246.88 L330.12,246.80 L331.17,246.71 L332.23,246.63 L333.28,246.54 L334.35,246.46 L335.41,246.38 L336.48,246.31 L337.55,246.23 L338.63,246.15 L339.71,246.08 L340.79,246.00 L341.87,245.93 L342.96,245.86 L344.06,245.79 L345.15,245.72 L346.25,245.66 L347.35,245.59 L348.46,245.52" fill="none" stroke="#111" stroke-width="1.3"/>
<line x1="210.30" y1="240.47" x2="348.86" y2="240.47" stroke="#ff0d0d" stroke-width="1.3"/>
<rect x="208.3" y="221.6" width="142.3" height="171.1" fill="none" stroke="#444" stroke-width="1.1"/>
<line x1="210.70" y1="392.7" x2="210.70" y2="390.8" stroke="#444" stroke-width="1.2"/>
<text x="210.70" y="406.90" font-size="13.8" text-anchor="middle" fill="#000">1.2</text>
<line x1="233.66" y1="392.7" x2="233.66" y2="390.8" stroke="#444" stroke-width="1.2"/>
<text x="233.66" y="406.90" font-size="13.8" text-anchor="middle" fill="#000">2</text>
<line x1="262.36" y1="392.7" x2="262.36" y2="390.8" stroke="#444" stroke-width="1.2"/>
<text x="262.36" y="406.90" font-size="13.8" text-anchor="middle" fill="#000">3</text>
<line x1="291.06" y1="392.7" x2="291.06" y2="390.8" stroke="#444" stroke-width="1.2"/>
<text x="291.06" y="406.90" font-size="13.8" text-anchor="middle" fill="#000">4</text>
<line x1="319.76" y1="392.7" x2="319.76" y2="390.8" stroke="#444" stroke-width="1.2"/>
<text x="319.76" y="406.90" font-size="13.8" text-anchor="middle" fill="#000">5</text>
<line x1="348.46" y1="392.7" x2="348.46" y2="390.8" stroke="#444" stroke-width="1.2"/>
<text x="348.46" y="406.90" font-size="13.8" text-anchor="middle" fill="#000">6</text>
<line x1="208.3" y1="392.60" x2="210.20000000000002" y2="392.60" stroke="#444" stroke-width="1.2"/>
<line x1="350.6" y1="392.60" x2="348.70000000000005" y2="392.60" stroke="#444" stroke-width="1.2"/>
<text x="206.30" y="397.40" font-size="13.8" text-anchor="end" fill="#000">0</text>
<line x1="208.3" y1="346.96" x2="210.20000000000002" y2="346.96" stroke="#444" stroke-width="1.2"/>
<line x1="350.6" y1="346.96" x2="348.70000000000005" y2="346.96" stroke="#444" stroke-width="1.2"/>
<text x="206.30" y="351.76" font-size="13.8" text-anchor="end" fill="#000">0.4</text>
<line x1="208.3" y1="301.32" x2="210.20000000000002" y2="301.32" stroke="#444" stroke-width="1.2"/>
<line x1="350.6" y1="301.32" x2="348.70000000000005" y2="301.32" stroke="#444" stroke-width="1.2"/>
<text x="206.30" y="306.12" font-size="13.8" text-anchor="end" fill="#000">0.8</text>
<line x1="208.3" y1="255.68" x2="210.20000000000002" y2="255.68" stroke="#444" stroke-width="1.2"/>
<line x1="350.6" y1="255.68" x2="348.70000000000005" y2="255.68" stroke="#444" stroke-width="1.2"/>
<text x="206.30" y="260.48" font-size="13.8" text-anchor="end" fill="#000">1.2</text>
<text x="212.40" y="235.20" font-size="14" text-anchor="start" font-style="italic" fill="#1a1f80" class="nv">(d)</text>
<text x="263" y="305.3" font-size="13.2"><tspan font-style="italic">θ</tspan>=0</text>
<text x="299.5" y="305.3" font-size="13.2"><tspan font-style="italic">θ</tspan>=<tspan font-style="italic">π</tspan><tspan dx="0.7">/</tspan><tspan dx="0.4">2</tspan></text>
<line x1="252.40" y1="316.20" x2="264.40" y2="316.20" stroke="#ff8a14" stroke-width="1.3"/>
<line x1="252.40" y1="330.00" x2="264.40" y2="330.00" stroke="#12ee12" stroke-width="1.3"/>
<line x1="299.30" y1="316.20" x2="310.70" y2="316.20" stroke="#111" stroke-width="1.3"/>
<line x1="299.30" y1="330.00" x2="310.70" y2="330.00" stroke="#ff0d0d" stroke-width="1.3"/>
<text x="267.00" y="319.00" font-size="11" text-anchor="start" font-style="italic" fill="#000">MTF</text>
<text x="313.70" y="319.00" font-size="11" text-anchor="start" font-style="italic" fill="#000">MTF</text>
<text x="267.00" y="332.80" font-size="11" text-anchor="start" font-style="italic" fill="#000">3DMT</text>
<text x="313.70" y="332.80" font-size="11" text-anchor="start" font-style="italic" fill="#000">3DMT</text>
<g transform="translate(182.20,319.40) rotate(-90)"><text x="0" y="0" font-size="16" transform="scale(1.1,1)">σ</text><line x1="8.3" y1="-7.5" x2="10.9" y2="-7.5" stroke="#000" stroke-width="1"/><path d="M3.6,-8.8 q1.45,-1.9 2.9,-0.6 t2.9,-0.6" fill="none" stroke="#000" stroke-width="0.95"/><text x="11.2" y="1.9" font-size="11">yy</text></g>
<g transform="translate(273.20,424.80)"><text x="0" y="0" font-size="11.5" style="stroke-width:0.4px">ϵ</text><path d="M0.9,-6.3 q1.1,-1.7 2.2,-0.6 t2.2,-0.6" fill="none" stroke="#000" stroke-width="0.85"/><text x="5.4" y="3.1" font-size="10.5" font-style="italic" style="stroke-width:0.08px">F</text></g>
</svg></body></html>
